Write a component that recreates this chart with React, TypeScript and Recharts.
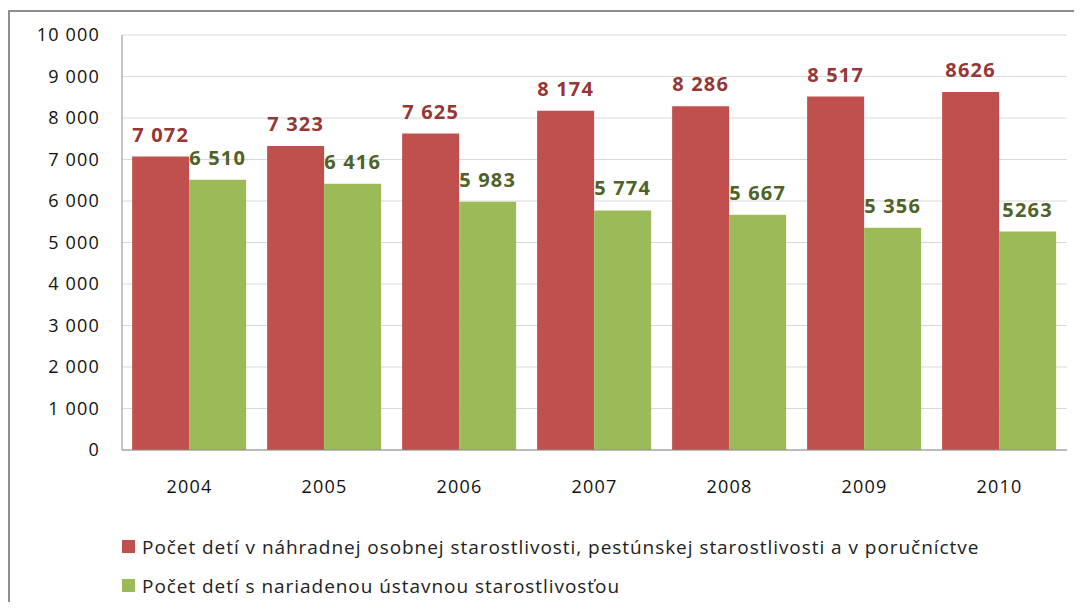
import { BarChart, Bar, XAxis, YAxis, CartesianGrid, LabelList } from 'recharts';

const years = ['2004', '2005', '2006', '2007', '2008', '2009', '2010'];
const fosterCare = [7072, 7323, 7625, 8174, 8286, 8517, 8626];
const institutionalCare = [6510, 6416, 5983, 5774, 5667, 5356, 5263];
const fosterLabels = ['7 072', '7 323', '7 625', '8 174', '8 286', '8 517', '8626'];
const institutionalLabels = ['6 510', '6 416', '5 983', '5 774', '5 667', '5 356', '5263'];
const yTicks = [0, 1000, 2000, 3000, 4000, 5000, 6000, 7000, 8000, 9000, 10000];
const seriesNames = [
  'Počet detí v náhradnej osobnej starostlivosti, pestúnskej starostlivosti a v poručníctve',
  'Počet detí s nariadenou ústavnou starostlivosťou',
];
const seriesColors = ['#C0504D', '#9BBB59'];

const chartData = years.map((year, i) => ({
  year,
  foster: fosterCare[i],
  institutional: institutionalCare[i],
  fosterLabel: fosterLabels[i],
  institutionalLabel: institutionalLabels[i],
}));

const font = '"Open Sans", sans-serif';

const formatTick = (v: number) =>
  v >= 1000 ? `${Math.floor(v / 1000)} ${String(v % 1000).padStart(3, '0')}` : String(v);

function ChartLegend() {
  return (
    <div
      style={{
        position: 'absolute',
        left: 122,
        top: 527,
        fontFamily: font,
        fontSize: 19,
        letterSpacing: 0.95,
        color: '#222',
      }}
    >
      {seriesNames.map((name, i) => (
        <div key={name} style={{ display: 'flex', alignItems: 'center', height: 39, whiteSpace: 'nowrap' }}>
          <span style={{ width: 13, height: 13, background: seriesColors[i], marginRight: 7 }} />
          <span>{name}</span>
        </div>
      ))}
    </div>
  );
}

export default function App() {
  return (
    <div style={{ position: 'relative', width: 1082, height: 610, margin: -8, overflow: 'hidden', background: '#fff' }}>
      <div
        style={{
          position: 'absolute',
          left: 8,
          top: 10,
          width: 1200,
          height: 700,
          borderLeft: '2px solid #8e8e8e',
          borderTop: '2px solid #8e8e8e',
        }}
      />
      <BarChart
        width={1082}
        height={610}
        data={chartData}
        margin={{ top: 35, right: 15, bottom: 130, left: 0 }}
        barCategoryGap="7.5%"
        barGap={0}
        style={{ position: 'absolute', left: 0, top: 0 }}
      >
        <CartesianGrid horizontal vertical={false} stroke="#d9d9d9" />
        <XAxis
          dataKey="year"
          height={30}
          axisLine={{ stroke: '#8c8c8c' }}
          tickLine={false}
          tickMargin={24}
          tick={{ fontFamily: font, fontSize: 18, fill: '#111', letterSpacing: 1.2 }}
        />
        <YAxis
          width={122}
          domain={[0, 10000]}
          ticks={yTicks}
          tickFormatter={formatTick}
          axisLine={{ stroke: '#8c8c8c' }}
          tickLine={false}
          tickMargin={16}
          tick={{ fontFamily: font, fontSize: 18, fill: '#111', letterSpacing: 1.2 }}
        />
        <Bar dataKey="foster" name={seriesNames[0]} fill={seriesColors[0]} isAnimationActive={false}>
          <LabelList
            dataKey="fosterLabel"
            position="top"
            offset={15}
            style={{ fontFamily: font, fontSize: 20, fontWeight: 700, fill: '#953735', letterSpacing: 1.2 }}
          />
        </Bar>
        <Bar dataKey="institutional" name={seriesNames[1]} fill={seriesColors[1]} isAnimationActive={false}>
          <LabelList
            dataKey="institutionalLabel"
            position="top"
            offset={15}
            style={{ fontFamily: font, fontSize: 20, fontWeight: 700, fill: '#4F6228', letterSpacing: 1.2 }}
          />
        </Bar>
      </BarChart>
      <ChartLegend />
    </div>
  );
}
